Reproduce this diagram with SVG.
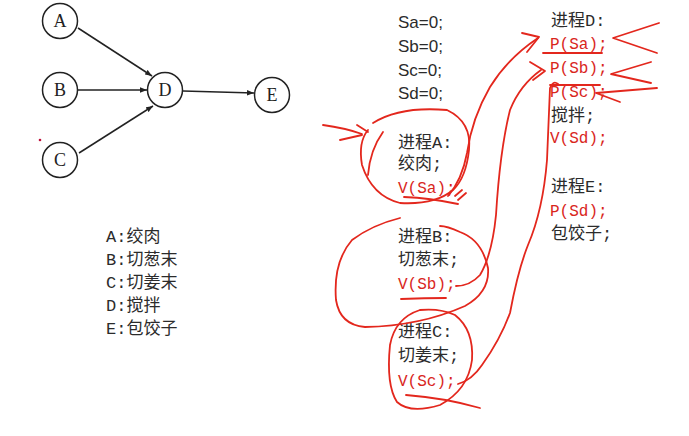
<svg xmlns="http://www.w3.org/2000/svg" width="689" height="436" viewBox="0 0 689 436">
<style>
.node circle{fill:#fff;stroke:#222;stroke-width:1.5}
.node text{font-family:"Liberation Serif",serif;font-size:18px;fill:#222;text-anchor:middle}
.edge{stroke:#222;stroke-width:1.5;fill:none;marker-end:url(#ah)}
.t{font-family:"Liberation Mono","Noto Sans CJK SC",monospace;font-size:17px;fill:#2b2b2b}
.s{font-family:"Liberation Sans","Noto Sans CJK SC",sans-serif;font-size:17px;fill:#2b2b2b}
.r{fill:#d9261c;font-size:16px}
.ink{fill:none;stroke:#e3271d;stroke-width:1.8;stroke-linecap:round;stroke-linejoin:round}
</style>
<defs>
<marker id="ah" viewBox="0 0 10 10" refX="10" refY="5" markerWidth="7" markerHeight="7" orient="auto" markerUnits="userSpaceOnUse">
<path d="M0,1 L10,5 L0,9 z" fill="#222"/>
</marker>
</defs>
<rect width="689" height="436" fill="#fff"/>
<g id="edges">
<line class="edge" x1="78" y1="28" x2="152" y2="76"/>
<line class="edge" x1="78" y1="90" x2="147" y2="90"/>
<line class="edge" x1="79" y1="153" x2="153" y2="106"/>
<line class="edge" x1="183" y1="91" x2="254" y2="93"/>
</g>
<g id="nodeA" class="node"><circle cx="60" cy="21" r="17.5"/><text x="60" y="27">A</text></g>
<g id="nodeB" class="node"><circle cx="60" cy="90" r="17.5"/><text x="60" y="96">B</text></g>
<g id="nodeC" class="node"><circle cx="60" cy="160" r="17.5"/><text x="60" y="166">C</text></g>
<g id="nodeD" class="node"><circle cx="165" cy="90" r="17.5"/><text x="165" y="96">D</text></g>
<g id="nodeE" class="node"><circle cx="272" cy="95" r="17.5"/><text x="272" y="101">E</text></g>
<circle cx="40" cy="140" r="1.3" fill="#c0103a"/>
<g id="legend" class="t">
<text x="106" y="242">A:绞肉</text>
<text x="106" y="265">B:切葱末</text>
<text x="106" y="288">C:切姜末</text>
<text x="106" y="311">D:搅拌</text>
<text x="106" y="334">E:包饺子</text>
</g>
<g id="init" class="s">
<text x="398" y="28">Sa=0;</text>
<text x="398" y="52">Sb=0;</text>
<text x="398" y="76">Sc=0;</text>
<text x="398" y="99">Sd=0;</text>
</g>
<g id="procA" class="t">
<text x="398" y="148">进程A:</text>
<text x="398" y="169">绞肉;</text>
<text x="398" y="193" class="t r">V(Sa);</text>
</g>
<g id="procB" class="t">
<text x="398" y="242">进程B:</text>
<text x="398" y="265">切葱末;</text>
<text x="398" y="289" class="t r">V(Sb);</text>
</g>
<g id="procC" class="t">
<text x="398" y="337">进程C:</text>
<text x="398" y="361">切姜末;</text>
<text x="398" y="386" class="t r">V(Sc);</text>
</g>
<g id="procD" class="t">
<text x="551" y="26">进程D:</text>
<text x="550" y="49" class="t r">P(Sa);</text>
<text x="550" y="73" class="t r">P(Sb);</text>
<text x="550" y="97" class="t r">P(Sc);</text>
<text x="551" y="121">搅拌;</text>
<text x="550" y="143" class="t r">V(Sd);</text>
</g>
<g id="procE" class="t">
<text x="551" y="192">进程E:</text>
<text x="550" y="216" class="t r">P(Sd);</text>
<text x="551" y="239">包饺子;</text>
</g>
<g id="annotations" class="ink">
<path d="M323,125 Q345,128 362,134 M340,140 L362,135 M357,125 L368,132"/>
<path d="M373,123 Q400,106 447,110 Q472,122 469,150 Q466,178 453,190 Q435,205 400,203 Q372,196 362,165 Q358,142 368,130"/>
<path d="M383,132 Q370,150 368,175"/>
<path d="M404,197 Q430,198 458,204"/>
<path d="M455,196 L462,190 M458,200 L466,193"/>
<path d="M448,196 Q462,180 467,153 Q472,118 490,87 Q508,58 538,38"/>
<path d="M522,33 L539,37 L527,52"/>
<path d="M543,53 L602,53"/>
<path d="M456,286 Q470,286 480,275 Q492,255 496,215 Q500,150 510,110 Q520,85 541,70"/>
<path d="M530,62 L545,71 L533,80"/>
<path d="M550,85 L600,85"/>
<path d="M458,384 Q472,380 482,365 Q500,340 510,313 Q518,270 528,245 Q543,210 547,160 L550,88 Q553,80 558,84"/>
<path d="M659,23 L613,38 L657,53"/>
<path d="M651,62 L611,74 L651,83"/>
<path d="M657,88 L596,93 L620,102"/>
<path d="M400,218 Q372,225 352,240 Q333,262 336,300 Q340,325 365,327 Q420,326 465,306 Q490,292 488,268 Q482,240 460,232 Q447,226 440,226"/>
<path d="M401,299 Q425,298 446,298"/>
<path d="M420,310 Q395,318 390,345 Q386,385 397,402 Q410,414 440,405 Q468,390 472,360 Q474,330 455,315 Q440,308 420,310"/>
<path d="M406,395 Q445,398 480,408"/>
</g>
</svg>
